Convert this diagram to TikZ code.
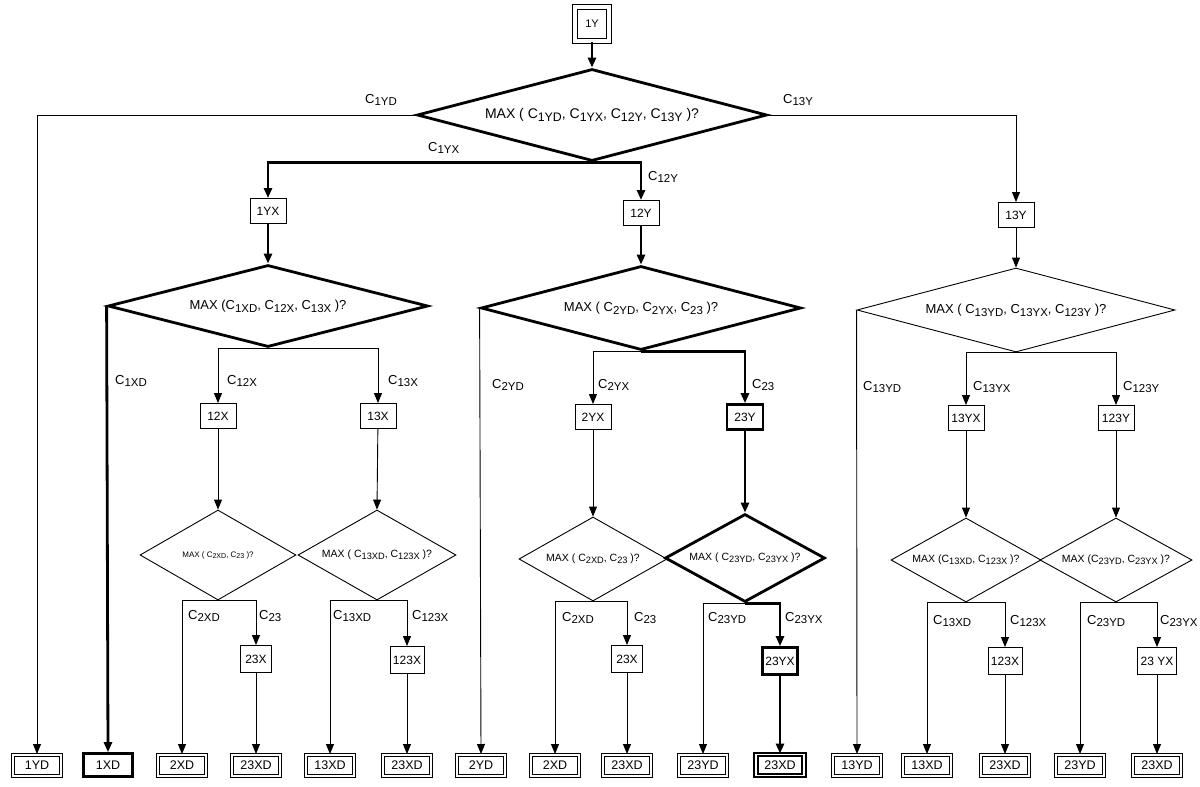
\documentclass[tikz,border=0pt]{standalone}
\usepackage{fontspec}
\setmainfont{Liberation Sans}
\usetikzlibrary{arrows.meta,shapes.geometric}
\newcommand{\Cs}[1]{C\raisebox{-0.4ex}{\scalebox{0.88}{#1}}}
\tikzset{
  thinln/.style={line width=0.9pt},
  boldln/.style={line width=2.8pt},
  arr/.style={-{Triangle[length=10pt,width=8pt]}},
  box/.style={draw, rectangle, line width=0.9pt, inner sep=3pt, minimum height=25pt, minimum width=36pt, font=\fontsize{12}{13}\selectfont},
  boldbox/.style={box, line width=2.6pt},
  endbox/.style={draw, rectangle, double, line width=1pt, double distance=2pt, minimum width=48pt, minimum height=21pt, inner sep=1pt, font=\fontsize{12.5}{13}\selectfont},
  endboldbox/.style={endbox, line width=1.8pt, double distance=1.5pt},
  endthick/.style={draw, rectangle, line width=2.6pt, minimum width=49pt, minimum height=23pt, inner sep=1pt, font=\fontsize{12.5}{13}\selectfont},
  dia/.style={draw, diamond, inner sep=0pt, line width=0.9pt},
  boldia/.style={dia, line width=2.8pt},
  lab/.style={anchor=west, inner sep=0pt, font=\fontsize{13}{14}\selectfont},
}
\begin{document}
\begin{tikzpicture}[x=1pt,y=-1pt]
\useasboundingbox (0,0) rectangle (1200,787);
% top
\node[draw, rectangle, double, line width=1.5pt, double distance=3.5pt, minimum width=34pt, minimum height=34pt, inner sep=0pt, font=\fontsize{11}{12}\selectfont] (b1Y) at (592,24) {1Y};
\node[boldia, minimum width=350pt, minimum height=92pt, aspect=3.8, font=\fontsize{14}{15}\selectfont] (d0) at (592,115) {MAX ( \Cs{1YD}, \Cs{1YX}, \Cs{12Y}, \Cs{13Y} )?};
% level 1 boxes
\node[box] (b1YX) at (268,211) {1YX};
\node[box] (b12Y) at (641,213) {12Y};
\node[box] (b13Y) at (1016,215) {13Y};
% level 2 diamonds
\node[boldia, minimum width=320pt, minimum height=82pt, aspect=3.9, font=\fontsize{13}{14}\selectfont] (d1) at (268,306) {MAX (\Cs{1XD}, \Cs{12X}, \Cs{13X} )?};
\node[boldia, minimum width=320pt, minimum height=84pt, aspect=3.8, font=\fontsize{13}{14}\selectfont] (d2) at (641,308) {MAX ( \Cs{2YD}, \Cs{2YX}, \Cs{23} )?};
\node[dia, minimum width=318pt, minimum height=84pt, aspect=3.8, font=\fontsize{13}{14}\selectfont] (d3) at (1016,310) {MAX ( \Cs{13YD}, \Cs{13YX}, \Cs{123Y} )?};
% level 3 boxes
\node[box] (b12X) at (218,416) {12X};
\node[box] (b13X) at (378,416) {13X};
\node[box] (b2YX) at (593,417) {2YX};
\node[boldbox] (b23Y) at (745,417) {23Y};
\node[box] (b13YX) at (966,418) {13YX};
\node[box] (b123Y) at (1116,418) {123Y};
% level 4 diamonds
\node[dia, minimum width=156pt, minimum height=90pt, aspect=1.73, font=\fontsize{8}{9}\selectfont] (e1) at (218,555) {MAX ( \Cs{2XD}, \Cs{23} )?};
\node[dia, minimum width=158pt, minimum height=90pt, aspect=1.75, font=\fontsize{10.5}{11}\selectfont] (e2) at (377,555) {MAX ( \Cs{13XD}, \Cs{123X} )?};
\node[dia, minimum width=148pt, minimum height=84pt, aspect=1.76, font=\fontsize{10.5}{11}\selectfont] (e3) at (593,559) {MAX ( \Cs{2XD}, \Cs{23} )?};
\node[boldia, minimum width=160pt, minimum height=88pt, aspect=1.82, font=\fontsize{10.5}{11}\selectfont] (e4) at (745,558) {MAX ( \Cs{23YD}, \Cs{23YX} )?};
\node[dia, minimum width=150pt, minimum height=84pt, aspect=1.78, font=\fontsize{10.5}{11}\selectfont] (e5) at (966,560) {MAX (\Cs{13XD}, \Cs{123X} )?};
\node[dia, minimum width=152pt, minimum height=84pt, aspect=1.8, font=\fontsize{10.5}{11}\selectfont] (e6) at (1116,560) {MAX (\Cs{23YD}, \Cs{23YX} )?};
% level 5 boxes
\node[box, minimum width=31pt, minimum height=27pt] (b23Xa) at (256,659) {23X};
\node[box, minimum width=31pt, minimum height=27pt] (b123Xa) at (407,660) {123X};
\node[box, minimum width=31pt, minimum height=27pt] (b23Xb) at (627,659) {23X};
\node[boldbox, minimum width=31pt, minimum height=27pt] (b23YXb) at (780,661) {23YX};
\node[box, minimum width=31pt, minimum height=27pt] (b123Xc) at (1005,661) {123X};
\node[box, minimum width=31pt, minimum height=27pt] (b23YXc) at (1157,661) {23 YX};
% bottom row
\node[endbox] (b1YD) at (37,765) {1YD};
\node[endthick] (b1XD) at (108,765) {1XD};
\node[endbox] (b2XDa) at (182,765) {2XD};
\node[endbox] (b23XDa) at (256,765) {23XD};
\node[endbox] (b13XDa) at (330,765) {13XD};
\node[endbox] (b23XDb) at (407,765) {23XD};
\node[endbox] (b2YD) at (481,765) {2YD};
\node[endbox] (b2XDb) at (555,765) {2XD};
\node[endbox] (b23XDc) at (627,765) {23XD};
\node[endbox] (b23YDb) at (703,765) {23YD};
\node[endboldbox] (b23XDd) at (780,765) {23XD};
\node[endbox] (b13YD) at (857,765) {13YD};
\node[endbox] (b13XDc) at (927,765) {13XD};
\node[endbox] (b23XDe) at (1005,765) {23XD};
\node[endbox] (b23YDc) at (1080,765) {23YD};
\node[endbox] (b23XDf) at (1157,765) {23XD};
% connectors: bold path
\draw[boldln,arr] (b1Y) -- (d0.north);
\draw[boldln,arr] (d0.south) -| (b1YX.north);
\draw[boldln,arr] (d0.south) -| (b12Y.north);
\draw[boldln,arr] (b1YX) -- (d1.north);
\draw[boldln,arr] (d1.west) -- (b1XD.north);
\draw[boldln,arr] (b12Y) -- (d2.north);
\draw[boldln,arr] (d2.south) -| (b23Y.north);
\draw[boldln,arr] (b23Y) -- (e4.north);
\draw[boldln,arr] (e4.south) -| (b23YXb.north);
\draw[boldln,arr] (b23YXb) -- (b23XDd.north);
% thin connectors
\draw[thinln,arr] (d0.west) -| (b1YD.north);
\draw[thinln,arr] (d0.east) -| (b13Y.north);
\draw[thinln,arr] (b13Y) -- (d3.north);
\draw[thinln,arr] (d1.south) -| (b12X.north);
\draw[thinln,arr] (d1.south) -| (b13X.north);
\draw[thinln,arr] (b12X) -- (e1.north);
\draw[thinln,arr] (b13X) -- (e2.north);
\draw[thinln,arr] (e1.south) -| (b2XDa.north);
\draw[thinln,arr] (e1.south) -| (b23Xa.north);
\draw[thinln,arr] (b23Xa) -- (b23XDa.north);
\draw[thinln,arr] (e2.south) -| (b13XDa.north);
\draw[thinln,arr] (e2.south) -| (b123Xa.north);
\draw[thinln,arr] (b123Xa) -- (b23XDb.north);
\draw[thinln,arr] (d2.west) -- (b2YD.north);
\draw[thinln,arr] (d2.south) -| (b2YX.north);
\draw[thinln,arr] (b2YX) -- (e3.north);
\draw[thinln,arr] (e3.south) -| (b2XDb.north);
\draw[thinln,arr] (e3.south) -| (b23Xb.north);
\draw[thinln,arr] (b23Xb) -- (b23XDc.north);
\draw[thinln,arr] (e4.south) -| (b23YDb.north);
\draw[thinln,arr] (d3.west) -- (b13YD.north);
\draw[thinln,arr] (d3.south) -| (b13YX.north);
\draw[thinln,arr] (d3.south) -| (b123Y.north);
\draw[thinln,arr] (b13YX) -- (e5.north);
\draw[thinln,arr] (b123Y) -- (e6.north);
\draw[thinln,arr] (e5.south) -| (b13XDc.north);
\draw[thinln,arr] (e5.south) -| (b123Xc.north);
\draw[thinln,arr] (b123Xc) -- (b23XDe.north);
\draw[thinln,arr] (e6.south) -| (b23YDc.north);
\draw[thinln,arr] (e6.south) -| (b23YXc.north);
\draw[thinln,arr] (b23YXc) -- (b23XDf.north);
% labels
\node[lab] (l1) at (365,100) {\Cs{1YD}};
\node[lab] (l2) at (783,100) {\Cs{13Y}};
\node[lab] (l3) at (428,148) {\Cs{1YX}};
\node[lab] (l4) at (648,177) {\Cs{12Y}};
\node[lab] (l5) at (115,381) {\Cs{1XD}};
\node[lab] (l6) at (227,381) {\Cs{12X}};
\node[lab] (l7) at (388,381) {\Cs{13X}};
\node[lab] (l8) at (492,385) {\Cs{2YD}};
\node[lab] (l9) at (598,385) {\Cs{2YX}};
\node[lab] (l10) at (752,385) {\Cs{23}};
\node[lab] (l11) at (863,387) {\Cs{13YD}};
\node[lab] (l12) at (973,387) {\Cs{13YX}};
\node[lab] (l13) at (1123,387) {\Cs{123Y}};
\node[lab] (l14) at (188,616) {\Cs{2XD}};
\node[lab] (l15) at (259,616) {\Cs{23}};
\node[lab] (l16) at (333,616) {\Cs{13XD}};
\node[lab] (l17) at (412,616) {\Cs{123X}};
\node[lab] (l18) at (562,618) {\Cs{2XD}};
\node[lab] (l19) at (634,618) {\Cs{23}};
\node[lab] (l20) at (708,618) {\Cs{23YD}};
\node[lab] (l21) at (785,618) {\Cs{23YX}};
\node[lab] (l22) at (933,621) {\Cs{13XD}};
\node[lab] (l23) at (1010,621) {\Cs{123X}};
\node[lab] (l24) at (1087,621) {\Cs{23YD}};
\node[lab] (l25) at (1160,621) {\Cs{23YX}};
\end{tikzpicture}
\end{document}
